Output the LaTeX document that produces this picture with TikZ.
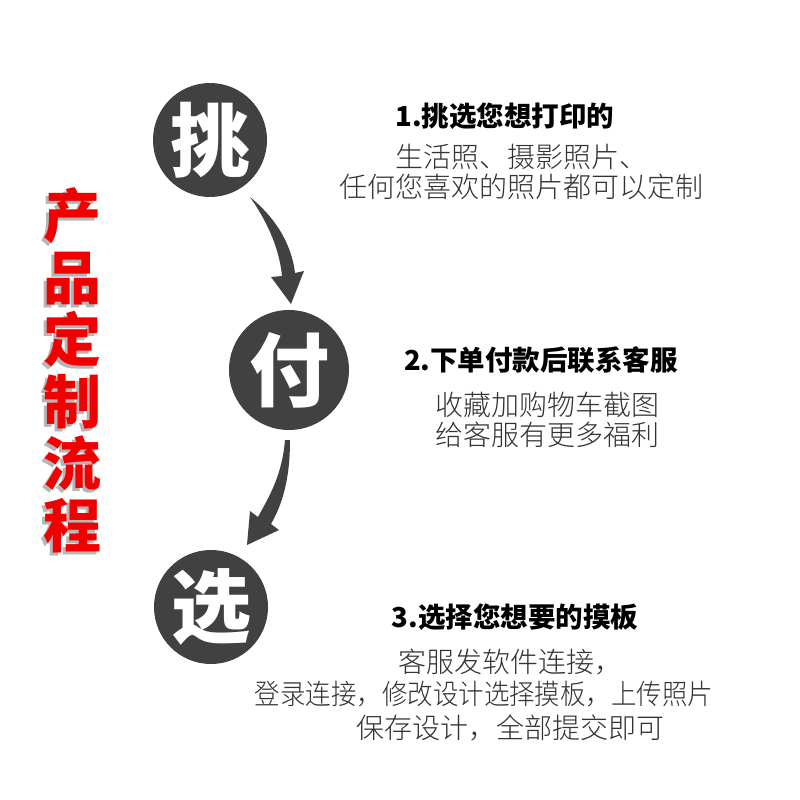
\documentclass[tikz,border=0pt]{standalone}
\usepackage{fontspec}
\setmainfont{Noto Sans CJK SC}
\newfontfamily\cjk{Noto Sans CJK SC}
\newfontfamily\cjklight{Noto Sans CJK SC Light}
\newfontfamily\cjkblack{Noto Sans CJK SC Black}
\definecolor{circgray}{HTML}{414141}
\definecolor{textgray}{HTML}{333333}
\definecolor{titlered}{HTML}{F20000}
\definecolor{shadowgray}{HTML}{B5B5B5}
\newcommand{\shadowch}[1]{\rlap{\hspace{-3pt}\raisebox{-3pt}{\textcolor{shadowgray}{#1}}}\textcolor{titlered}{#1}}
\tikzset{
  stepcirc/.style={circle,fill=circgray,text=white,inner sep=0pt,minimum size=114pt,
    font=\cjkblack\fontsize{80}{80}\selectfont},
  headline/.style={font=\cjk\bfseries\fontsize{27.5}{27.5}\selectfont,text=black},
  bodytext/.style={align=center,text=textgray,font=\cjklight\fontsize{28}{30}\selectfont},
  bigtitle/.style={align=center,font=\cjk\bfseries\fontsize{58}{62}\selectfont}
}
\begin{document}
\begin{tikzpicture}[x=1pt,y=-1pt]
  \useasboundingbox[fill=white] (0,0) rectangle (800,800);
  % vertical title with shadow
  \node[bigtitle] (title) at (72,372)
    {\shadowch{产}\\\shadowch{品}\\\shadowch{定}\\\shadowch{制}\\\shadowch{流}\\\shadowch{程}};
  % circles
  \node[stepcirc] (tiao) at (210,140) {挑};
  \node[stepcirc,minimum size=120pt] (fu) at (289,370) {付};
  \node[stepcirc] (xuan) at (211,607) {选};
  % arrows
  \fill[circgray] (250,197) .. controls (272,215) and (291,240) .. (295,273)
    -- (304,271) -- (291,304) -- (271,277) -- (282,276)
    .. controls (279,246) and (266,220) .. (250,197);
  \fill[circgray] (285,440) -- (290,440) .. controls (290,478) and (283,503) .. (271,524)
    -- (279,530) -- (247,545) -- (250,511) -- (258,517)
    .. controls (270,495) and (282,475) .. (285,440);
  % step 1
  \node[headline] (h1) at (505,116) {1.挑选您想打印的};
  \node[bodytext] (b1) at (521,172) {生活照、摄影照片、\\任何您喜欢的照片都可以定制};
  % step 2
  \node[headline] (h2) at (541,360) {2.下单付款后联系客服};
  \node[bodytext] (b2) at (547,420) {收藏加购物车截图\\给客服有更多福利};
  % step 3
  \node[headline] (h3) at (515,617) {3.选择您想要的摸板};
  \node[bodytext] (b3a) at (510,662) {客服发软件连接，};
  \node[bodytext] (b3b) at (484,694) {\scalebox{0.91}[1]{登录连接，修改设计选择摸板，上传照片}};
  \node[bodytext] (b3c) at (510,728) {保存设计，全部提交即可};
\end{tikzpicture}
\end{document}
